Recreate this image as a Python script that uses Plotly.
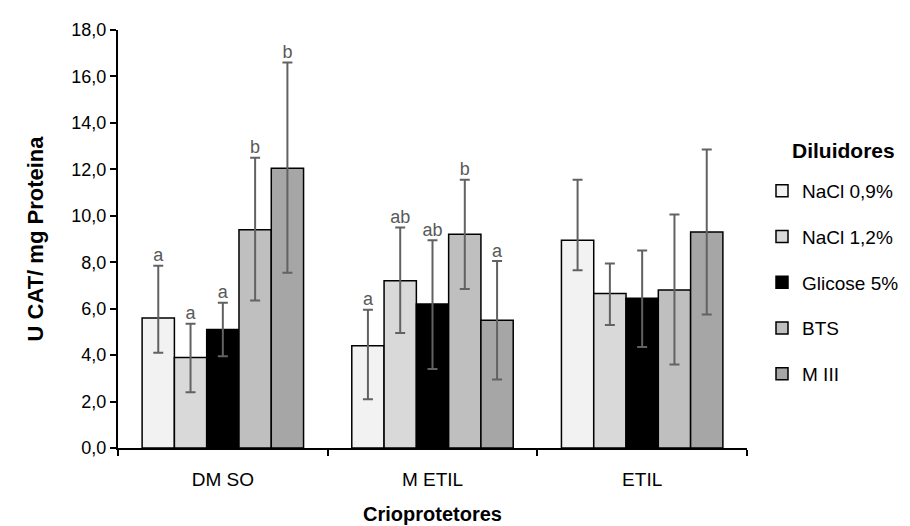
import plotly.graph_objects as go

categories = ["DM SO", "M ETIL", "ETIL"]
series_names = ["NaCl 0,9%", "NaCl 1,2%", "Glicose 5%", "BTS", "M III"]
colors = ["#f2f2f2", "#d9d9d9", "#000000", "#bfbfbf", "#a6a6a6"]
legend_title = "Diluidores"

nacl09 = [5.6, 4.4, 8.95]
nacl12 = [3.9, 7.2, 6.65]
glicose = [5.1, 6.2, 6.45]
bts = [9.4, 9.2, 6.8]
miii = [12.05, 5.5, 9.3]

nacl09_hi = [7.85, 5.95, 11.55]
nacl12_hi = [5.35, 9.5, 7.95]
glicose_hi = [6.25, 8.95, 8.5]
bts_hi = [12.5, 11.55, 10.05]
miii_hi = [16.6, 8.05, 12.85]

nacl09_lo = [4.1, 2.1, 7.65]
nacl12_lo = [2.4, 4.95, 5.3]
glicose_lo = [3.95, 3.4, 4.35]
bts_lo = [6.35, 6.85, 3.6]
miii_lo = [7.55, 2.95, 5.75]

nacl09_letters = ["a", "a", ""]
nacl12_letters = ["a", "ab", ""]
glicose_letters = ["a", "ab", ""]
bts_letters = ["b", "b", ""]
miii_letters = ["b", "a", ""]

values = [nacl09, nacl12, glicose, bts, miii]
highs = [nacl09_hi, nacl12_hi, glicose_hi, bts_hi, miii_hi]
lows = [nacl09_lo, nacl12_lo, glicose_lo, bts_lo, miii_lo]
letters = [nacl09_letters, nacl12_letters, glicose_letters, bts_letters, miii_letters]

FONT = "Liberation Sans, Arial, sans-serif"
fig = go.Figure()

for i, name in enumerate(series_names):
    v = values[i]
    plus = [h - x for h, x in zip(highs[i], v)]
    minus = [x - l for x, l in zip(v, lows[i])]
    fig.add_trace(go.Bar(
        x=categories, y=v, name=name,
        marker=dict(color=colors[i], line=dict(color="#000000", width=1.5)),
        error_y=dict(type="data", symmetric=False, array=plus, arrayminus=minus,
                     color="#626262", thickness=2, width=5),
        legendgroup=name, offsetgroup=str(i),
    ))

for i, name in enumerate(series_names):
    fig.add_trace(go.Scatter(
        x=categories, y=highs[i], text=letters[i], mode="text",
        textposition="top center",
        textfont=dict(family=FONT, size=18, color="#595959"),
        showlegend=False, hoverinfo="skip", offsetgroup=str(i),
    ))

fig.add_annotation(
    text="<b>" + legend_title + "</b>",
    xref="paper", yref="paper", x=1.068, y=0.712,
    xanchor="left", yanchor="middle", showarrow=False,
    font=dict(family=FONT, size=21, color="#000000"),
)

fig.update_layout(
    width=910, height=526,
    margin=dict(l=110, r=171, t=18, b=84),
    plot_bgcolor="white", paper_bgcolor="white",
    barmode="group", bargap=0.23, bargroupgap=0,
    scattermode="group", scattergap=0.23,
    separators=",.",
    font=dict(family=FONT, size=18, color="#000000"),
    legend=dict(
        xref="container", yref="container",
        x=754 / 910, y=1 - 164 / 526, xanchor="left", yanchor="top",
        tracegroupgap=18, itemwidth=30,
        font=dict(size=19),
    ),
    xaxis=dict(
        showline=True, linecolor="#000000", linewidth=2,
        ticks="outside", tickson="boundaries", ticklen=6, tickwidth=1.5,
        tickcolor="#000000", ticklabelstandoff=13,
        tickfont=dict(size=19),
        title=dict(text="<b>Crioprotetores</b>", font=dict(size=20), standoff=18),
    ),
    yaxis=dict(
        range=[0, 18], dtick=2, tickformat=".1f",
        showline=True, linecolor="#000000", linewidth=2,
        ticks="outside", ticklen=6, tickwidth=1.5, tickcolor="#000000",
        showgrid=False, zeroline=False,
        title=dict(text="<b>U CAT/ mg Proteina</b>", font=dict(size=22), standoff=22),
    ),
)

fig.write_html("out.html")
